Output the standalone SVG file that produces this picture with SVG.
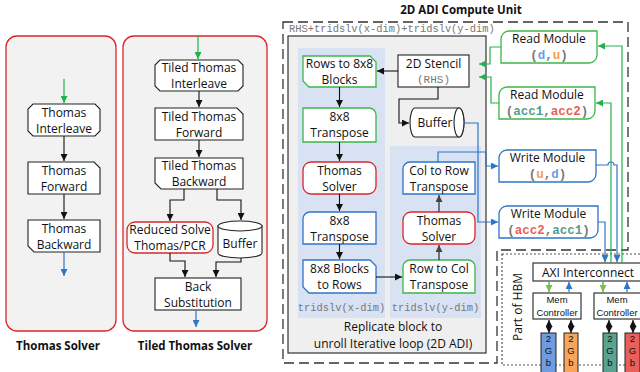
<svg xmlns="http://www.w3.org/2000/svg" width="640" height="372" viewBox="0 0 640 372">
  <defs>
    <marker id="ah-k" markerUnits="userSpaceOnUse" markerWidth="7" markerHeight="7" viewBox="0 0 7 7" refX="7" refY="3.5" orient="auto-start-reverse">
      <path d="M0,0 L7,3.5 L0,7 Z" fill="#111"/>
    </marker>
    <marker id="ah-g" markerUnits="userSpaceOnUse" markerWidth="7" markerHeight="7" viewBox="0 0 7 7" refX="7" refY="3.5" orient="auto">
      <path d="M0,0 L7,3.5 L0,7 Z" fill="#22b14c"/>
    </marker>
    <marker id="ah-lg" markerUnits="userSpaceOnUse" markerWidth="7" markerHeight="7" viewBox="0 0 7 7" refX="7" refY="3.5" orient="auto">
      <path d="M0,0 L7,3.5 L0,7 Z" fill="#7cbf3c"/>
    </marker>
    <marker id="ah-b" markerUnits="userSpaceOnUse" markerWidth="7" markerHeight="7" viewBox="0 0 7 7" refX="7" refY="3.5" orient="auto">
      <path d="M0,0 L7,3.5 L0,7 Z" fill="#2e75c8"/>
    </marker>
    <marker id="ah-d" markerUnits="userSpaceOnUse" markerWidth="7" markerHeight="7" viewBox="0 0 7 7" refX="7" refY="3.5" orient="auto">
      <path d="M0,0 L7,3.5 L0,7 Z" fill="#444"/>
    </marker>
  </defs>
  <style>
    .panel { fill: #f2f2f2; stroke: #d9262c; stroke-width: 1.3; }
    .node { fill: #fff; stroke: #222; stroke-width: 1.1; }
    .gn { fill: #fff; stroke: #3cb54a; stroke-width: 1.3; }
    .bn { fill: #fff; stroke: #2e75c8; stroke-width: 1.3; }
    .rn { fill: #fff; stroke: #d9262c; stroke-width: 1.3; }
    .t { font-family: "Open Sans", "Liberation Sans", sans-serif; font-size: 12px; fill: #111; text-anchor: middle; }
    .title { font-family: "Open Sans", "Liberation Sans", sans-serif; font-size: 11.5px; font-weight: bold; fill: #111; text-anchor: middle; }
    .mono { font-family: "Liberation Mono", "DejaVu Sans Mono", monospace; fill: #777; }
    .code { font-family: "Liberation Mono", "DejaVu Sans Mono", monospace; font-size: 12.5px; font-weight: bold; fill: #777; text-anchor: middle; }
    .k { fill: none; stroke: #111; stroke-width: 1.1; }
    .g { fill: none; stroke: #22b14c; stroke-width: 1.2; }
    .b { fill: none; stroke: #2e75c8; stroke-width: 1.2; }
    .d { fill: none; stroke: #444; stroke-width: 1.4; }
    .cd { fill: #6f9be0; } .cu { fill: #f4a04c; } .c1 { fill: #4f9f8a; } .c2 { fill: #e8605a; }
    .small { font-family: "Liberation Sans", "Open Sans", sans-serif; font-size: 9.5px; fill: #111; text-anchor: middle; }
  </style>

  <!-- ===== Thomas Solver panel ===== -->
  <g id="thomas-solver">
    <rect class="panel" x="6" y="36" width="110" height="295" rx="11"/>
    <text class="title" x="58" y="350">Thomas Solver</text>
  </g>
  <g id="thomas-interleave">
    <path class="node" d="M33,104 H95 L100,109 V131 L95,136 H33 L28,131 V109 Z"/>
    <text class="t" x="64" y="116.5">Thomas</text>
    <text class="t" x="64" y="132.5">Interleave</text>
  </g>
  <g id="thomas-forward">
    <path class="node" d="M28,162 H94 L100,168 V194 H28 Z"/>
    <text class="t" x="64" y="174.5">Thomas</text>
    <text class="t" x="64" y="190.5">Forward</text>
  </g>
  <g id="thomas-backward">
    <path class="node" d="M28,220 H100 V252 H34 L28,246 Z"/>
    <text class="t" x="64" y="232.5">Thomas</text>
    <text class="t" x="64" y="248.5">Backward</text>
  </g>

  <!-- ===== Tiled Thomas Solver panel ===== -->
  <g id="tiled-thomas-solver">
    <rect class="panel" x="123" y="36" width="144" height="295" rx="11"/>
    <text class="title" x="195" y="350">Tiled Thomas Solver</text>
  </g>
  <g id="tiled-interleave">
    <path class="node" d="M160,60 H238 L243,65 V86 L238,91 H160 L155,86 V65 Z"/>
    <text class="t" x="199" y="72">Tiled Thomas</text>
    <text class="t" x="199" y="88">Interleave</text>
  </g>
  <g id="tiled-forward">
    <path class="node" d="M155,108 H237 L243,114 V140 H155 Z"/>
    <text class="t" x="199" y="120.5">Tiled Thomas</text>
    <text class="t" x="199" y="136.5">Forward</text>
  </g>
  <g id="tiled-backward">
    <path class="node" d="M155,158 H243 V189 H161 L155,183 Z"/>
    <text class="t" x="199" y="170">Tiled Thomas</text>
    <text class="t" x="199" y="186">Backward</text>
  </g>
  <g id="reduced-solve">
    <rect class="rn" x="127" y="222" width="86" height="31" rx="8"/>
    <text class="t" x="170" y="234">Reduced Solve</text>
    <text class="t" x="170" y="250">Thomas/PCR</text>
  </g>
  <g id="tiled-buffer">
    <path class="node" d="M218,226 V253 A22,5 0 0 0 262,253 V226 Z"/>
    <ellipse class="node" cx="240" cy="226" rx="22" ry="5"/>
    <text class="t" x="240" y="248">Buffer</text>
  </g>
  <g id="back-substitution">
    <rect class="node" x="155" y="278" width="86" height="32"/>
    <text class="t" x="198" y="290.5">Back</text>
    <text class="t" x="198" y="306.5">Substitution</text>
  </g>

  <!-- ===== 2D ADI Compute Unit ===== -->
  <g id="compute-unit">
    <text class="title" x="461" y="14" font-size="12px">2D ADI  Compute Unit</text>
    <path d="M283,22 H628 V250 H497 V363 H283 Z" fill="none" stroke="#333" stroke-width="1.3" stroke-dasharray="10,5"/>
    <text class="mono" x="289" y="31.5" font-size="10.4px">RHS+tridslv(x-dim)+tridslv(y-dim)</text>
    <rect x="288" y="36" width="198" height="317" fill="#efefef" stroke="#333" stroke-width="1.2"/>
    <rect x="298" y="48" width="87" height="270" fill="#d9e2f3"/>
    <rect x="390" y="146" width="91" height="172" fill="#d9e2f3"/>
    <text class="mono" x="341.5" y="311" font-size="10.4px" text-anchor="middle">tridslv(x-dim)</text>
    <text class="mono" x="435.5" y="311" font-size="10.4px" text-anchor="middle">tridslv(y-dim)</text>
    <text class="t" x="393" y="331">Replicate block to</text>
    <text class="t" x="393" y="348">unroll Iterative loop (2D ADI)</text>
  </g>

  <!-- x-dim column -->
  <g id="rows-to-blocks">
    <path class="gn" d="M303,56 H370 L376,62 V87 H309 L303,81 Z"/>
    <text class="t" x="339.5" y="68">Rows to 8x8</text>
    <text class="t" x="339.5" y="84">Blocks</text>
  </g>
  <g id="x-transpose-1">
    <path class="gn" d="M303,108 H369 A7,7 0 0 1 376,115 V142 H303 Z"/>
    <text class="t" x="339.5" y="121">8x8</text>
    <text class="t" x="339.5" y="137">Transpose</text>
  </g>
  <g id="x-thomas-solver">
    <rect class="rn" x="303" y="162" width="73" height="32" rx="8"/>
    <text class="t" x="339.5" y="174.5">Thomas</text>
    <text class="t" x="339.5" y="190.5">Solver</text>
  </g>
  <g id="x-transpose-2">
    <path class="bn" d="M310,212 H376 V244 H303 V219 A7,7 0 0 1 310,212 Z"/>
    <text class="t" x="339.5" y="224.5">8x8</text>
    <text class="t" x="339.5" y="240.5">Transpose</text>
  </g>
  <g id="blocks-to-rows">
    <path class="bn" d="M303,260 H370 L376,266 V293 H309 L303,287 Z"/>
    <text class="t" x="339.5" y="272.5">8x8 Blocks</text>
    <text class="t" x="339.5" y="288.5">to Rows</text>
  </g>

  <!-- y-dim column -->
  <g id="row-to-col">
    <path class="gn" d="M410,260 H468 A7,7 0 0 1 475,267 V293 H403 V267 A7,7 0 0 1 410,260 Z"/>
    <text class="t" x="439" y="272.5">Row to Col</text>
    <text class="t" x="439" y="288.5">Transpose</text>
  </g>
  <g id="y-thomas-solver">
    <rect class="rn" x="403" y="212" width="72" height="32" rx="8"/>
    <text class="t" x="439" y="224.5">Thomas</text>
    <text class="t" x="439" y="240.5">Solver</text>
  </g>
  <g id="col-to-row">
    <path class="bn" d="M410,162 H475 V194 H403 V169 A7,7 0 0 1 410,162 Z"/>
    <text class="t" x="439" y="174.5">Col to Row</text>
    <text class="t" x="439" y="190.5">Transpose</text>
  </g>

  <!-- stencil and buffer -->
  <g id="stencil">
    <rect class="node" x="398" y="55" width="71" height="32"/>
    <text class="t" x="433.5" y="67.5">2D Stencil</text>
    <text class="mono" x="433.5" y="83" font-size="11px" text-anchor="middle">(RHS)</text>
  </g>
  <g id="ci-buffer">
    <path class="node" d="M415,108 H459 A5,14.5 0 0 1 459,137 H415 A5,14.5 0 0 1 415,108 Z"/>
    <ellipse class="node" cx="459" cy="122.5" rx="5" ry="14.5"/>
    <text class="t" x="435" y="127">Buffer</text>
  </g>

  <!-- memory interface modules -->
  <g id="read-du">
    <path class="gn" d="M509,31 H597 V55 A8,8 0 0 1 589,63 H501 V39 A8,8 0 0 1 509,31 Z"/>
    <text class="t" x="549" y="42.5">Read Module</text>
    <text class="code" x="549" y="59">(<tspan class="cd">d</tspan>,<tspan class="cu">u</tspan>)</text>
  </g>
  <g id="read-acc">
    <path class="gn" d="M507,87 H595 V111 A8,8 0 0 1 587,119 H499 V95 A8,8 0 0 1 507,87 Z"/>
    <text class="t" x="547" y="98.5">Read Module</text>
    <text class="code" x="547" y="115">(<tspan class="c1">acc1</tspan>,<tspan class="c2">acc2</tspan>)</text>
  </g>
  <g id="write-ud">
    <path class="bn" d="M507,150 H596 V174 A8,8 0 0 1 588,182 H499 V158 A8,8 0 0 1 507,150 Z"/>
    <text class="t" x="547.5" y="161.5">Write Module</text>
    <text class="code" x="547.5" y="178">(<tspan class="cu">u</tspan>,<tspan class="cd">d</tspan>)</text>
  </g>
  <g id="write-acc">
    <path class="bn" d="M507,206 H598 V230 A8,8 0 0 1 590,238 H499 V214 A8,8 0 0 1 507,206 Z"/>
    <text class="t" x="548.5" y="217.5">Write Module</text>
    <text class="code" x="548.5" y="234">(<tspan class="c2">acc2</tspan>,<tspan class="c1">acc1</tspan>)</text>
  </g>

  <!-- HBM -->
  <g id="hbm">
    <rect x="502" y="254" width="150" height="111" fill="#fff" stroke="#555" stroke-width="1.2" stroke-dasharray="2,2"/>
    <text class="t" x="0" y="0" font-size="11px" transform="translate(522,307) rotate(-90)">Part of HBM</text>
  </g>
  <g id="axi">
    <rect class="node" x="533" y="263" width="115" height="18"/>
    <text class="t" x="588" y="277" font-size="12.5px">AXI Interconnect</text>
  </g>
  <g id="mem-ctrl-1">
    <rect class="node" x="533" y="293" width="48" height="26"/>
    <text class="small" x="557" y="303">Mem</text>
    <text class="small" x="557" y="316">Controller</text>
  </g>
  <g id="mem-ctrl-2">
    <rect class="node" x="594" y="293" width="50" height="26"/>
    <text class="small" x="617" y="303">Mem</text>
    <text class="small" x="617" y="316">Controller</text>
  </g>
  <g id="dram-1">
    <rect x="541" y="333" width="15" height="42" fill="#6f9be0" stroke="#222"/>
    <text class="small" x="548.5" y="342">2</text><text class="small" x="548.5" y="354">G</text><text class="small" x="548.5" y="366">b</text>
  </g>
  <g id="dram-2">
    <rect x="564" y="333" width="14" height="42" fill="#f6a55a" stroke="#222"/>
    <text class="small" x="571" y="342">2</text><text class="small" x="571" y="354">G</text><text class="small" x="571" y="366">b</text>
  </g>
  <g id="dram-3">
    <rect x="603" y="333" width="14" height="42" fill="#5aa390" stroke="#222"/>
    <text class="small" x="610" y="342">2</text><text class="small" x="610" y="354">G</text><text class="small" x="610" y="366">b</text>
  </g>
  <g id="dram-4">
    <rect x="625" y="333" width="15" height="42" fill="#e8605a" stroke="#222"/>
    <text class="small" x="632.5" y="342">2</text><text class="small" x="632.5" y="354">G</text><text class="small" x="632.5" y="366">b</text>
  </g>

  <!-- ===== Connectors ===== -->
  <g id="connectors">
    <!-- Thomas Solver -->
    <path class="g" d="M64,79 V103" stroke-width="1.3" marker-end="url(#ah-g)"/>
    <path class="k" d="M64,136 V161" marker-end="url(#ah-k)"/>
    <path class="k" d="M64,194 V219" marker-end="url(#ah-k)"/>
    <path class="b" d="M64,252 V276" marker-end="url(#ah-b)"/>

    <!-- Tiled Thomas Solver -->
    <path class="g" d="M198,36 V59" stroke-width="1.3" marker-end="url(#ah-g)"/>
    <path class="k" d="M199,91 V107" marker-end="url(#ah-k)"/>
    <path class="k" d="M199,140 V157" marker-end="url(#ah-k)"/>
    <path class="k" d="M184,189 V200 H170 V221" marker-end="url(#ah-k)"/>
    <path class="k" d="M217,189 V200 H241 V220" marker-end="url(#ah-k)"/>
    <path class="k" d="M170,253 V261 H185 V277" marker-end="url(#ah-k)"/>
    <path class="k" d="M241,258 V262 H216 V277" marker-end="url(#ah-k)"/>
    <path class="b" d="M196,310 V327" marker-end="url(#ah-b)"/>

    <!-- x-dim column -->
    <path class="k" d="M398,71 H377" marker-end="url(#ah-k)"/>
    <path class="k" d="M438,87 V99 H399 V123 H409" marker-end="url(#ah-k)"/>
    <path class="k" d="M339.5,87 V107" marker-end="url(#ah-k)"/>
    <path class="k" d="M339.5,142 V161" marker-end="url(#ah-k)"/>
    <path class="k" d="M339.5,194 V211" marker-end="url(#ah-k)"/>
    <path class="k" d="M339.5,244 V259" marker-end="url(#ah-k)"/>
    <path class="k" d="M376,277 H402" marker-end="url(#ah-k)"/>

    <!-- y-dim column -->
    <path class="d" d="M439,260 V245" marker-end="url(#ah-d)"/>
    <path class="d" d="M439,212 V195" marker-end="url(#ah-d)"/>

    <!-- to write modules -->
    <path class="b" d="M438,162 V152 H486 V166 H498" marker-end="url(#ah-b)"/>
    <path class="b" d="M464,123 H478 V222 H498" marker-end="url(#ah-b)"/>

    <!-- read modules to stencil -->
    <path class="g" d="M501,47 H490 V64 H479" marker-end="url(#ah-g)"/>
    <path class="g" d="M499,103 H491 V77 H479" marker-end="url(#ah-g)"/>

    <!-- AXI to read modules -->
    <path class="g" d="M622,263 V46 H598" marker-end="url(#ah-g)"/>
    <path class="g" d="M611,263 V103 H596" marker-end="url(#ah-g)"/>

    <!-- write modules to AXI -->
    <path class="b" d="M596,165 H608 A3,3 0 0 1 614,165 H617 V262" marker-end="url(#ah-b)"/>
    <path class="b" d="M598,222 H605 V262" marker-end="url(#ah-b)"/>

    <!-- AXI to memory controllers -->
    <path class="g" d="M549,282 V292" stroke="#7cbf3c" marker-end="url(#ah-lg)"/>
    <path class="b" d="M569,292 V282" marker-end="url(#ah-b)"/>
    <path class="g" d="M603,282 V292" stroke="#7cbf3c" marker-end="url(#ah-lg)"/>
    <path class="b" d="M627,292 V282" marker-end="url(#ah-b)"/>

    <!-- memory controllers to DRAM -->
    <path class="k" d="M549,320 V333" stroke-width="1.5" marker-start="url(#ah-k)" marker-end="url(#ah-k)"/>
    <path class="k" d="M571,320 V333" stroke-width="1.5" marker-start="url(#ah-k)" marker-end="url(#ah-k)"/>
    <path class="k" d="M609,320 V333" stroke-width="1.5" marker-start="url(#ah-k)" marker-end="url(#ah-k)"/>
    <path class="k" d="M633,320 V333" stroke-width="1.5" marker-start="url(#ah-k)" marker-end="url(#ah-k)"/>
  </g>
</svg>
